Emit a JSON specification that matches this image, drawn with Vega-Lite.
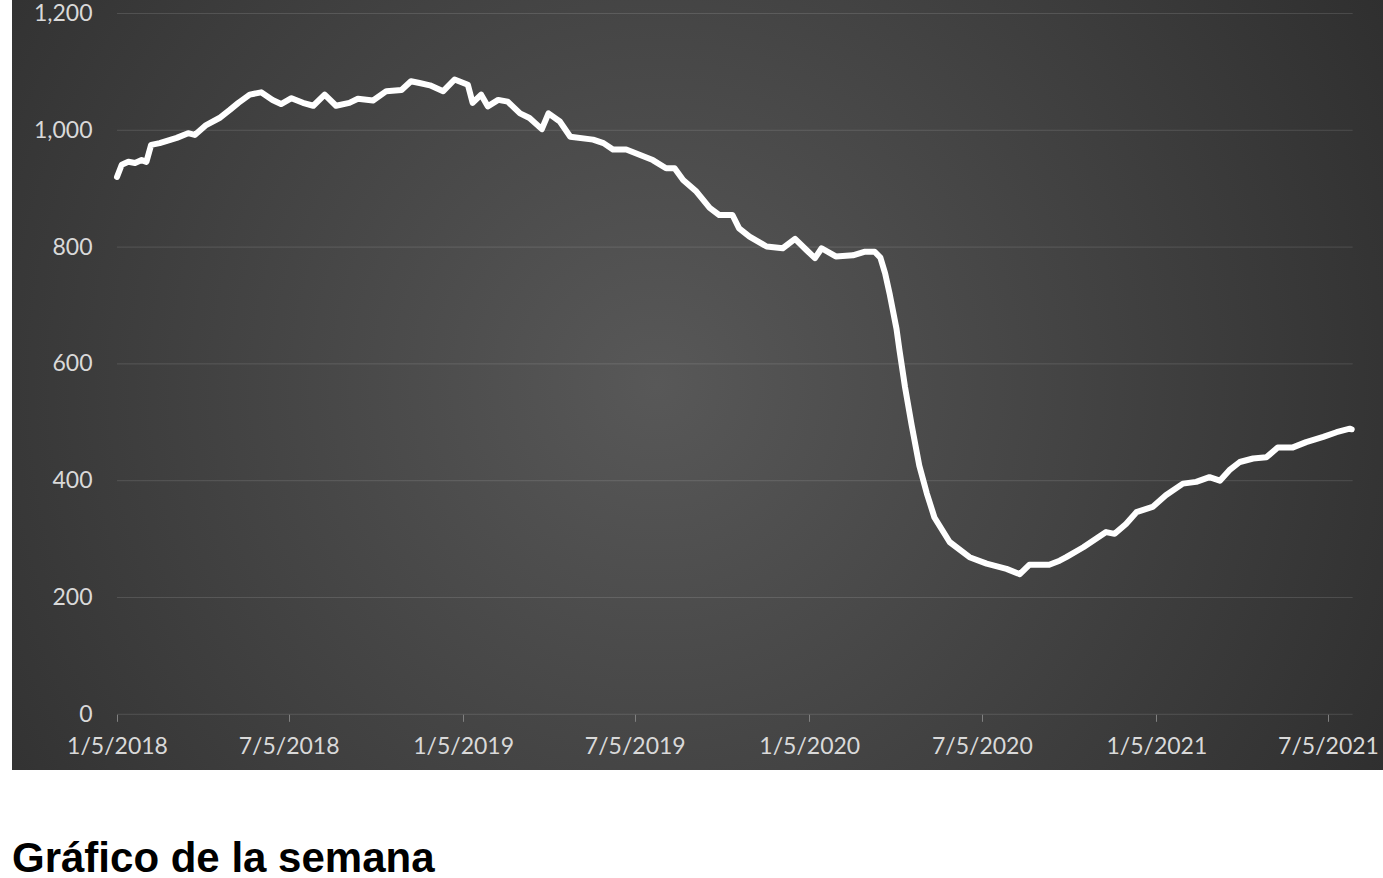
{
  "$schema": "https://vega.github.io/schema/vega-lite/v6.json",
  "width": 1371,
  "height": 770,
  "autosize": {"type": "none"},
  "padding": {"left": 12, "top": 0, "right": 0, "bottom": 108},
  "background": "white",
  "title": {
    "text": "Gráfico de la semana",
    "orient": "bottom",
    "anchor": "start",
    "frame": "group",
    "font": "Liberation Sans",
    "fontSize": 42,
    "fontWeight": "bold",
    "color": "black",
    "baseline": "alphabetic",
    "offset": 102
  },
  "config": {
    "view": {
      "stroke": null,
      "fill": {
        "gradient": "radial",
        "x1": 0.47, "y1": 0.5, "r1": 0,
        "x2": 0.47, "y2": 0.5, "r2": 0.72,
        "stops": [
          {"offset": 0, "color": "#585858"},
          {"offset": 1, "color": "#272727"}
        ]
      }
    }
  },
  "datasets": {
    "grid": [{"v": 0}, {"v": 200}, {"v": 400}, {"v": 600}, {"v": 800}, {"v": 1000}, {"v": 1200}],
    "series": [
      {"date": "2018-01-05", "value": 920},
      {"date": "2018-01-10", "value": 941},
      {"date": "2018-01-17", "value": 946},
      {"date": "2018-01-24", "value": 944},
      {"date": "2018-01-31", "value": 949},
      {"date": "2018-02-05", "value": 946},
      {"date": "2018-02-10", "value": 975},
      {"date": "2018-02-19", "value": 978},
      {"date": "2018-03-09", "value": 987},
      {"date": "2018-03-21", "value": 995},
      {"date": "2018-03-28", "value": 992},
      {"date": "2018-04-09", "value": 1009},
      {"date": "2018-04-23", "value": 1021},
      {"date": "2018-05-04", "value": 1035},
      {"date": "2018-05-13", "value": 1047},
      {"date": "2018-05-25", "value": 1061},
      {"date": "2018-06-06", "value": 1065},
      {"date": "2018-06-18", "value": 1052},
      {"date": "2018-06-27", "value": 1045},
      {"date": "2018-07-08", "value": 1055},
      {"date": "2018-07-20", "value": 1047},
      {"date": "2018-07-31", "value": 1042},
      {"date": "2018-08-12", "value": 1061},
      {"date": "2018-08-24", "value": 1042},
      {"date": "2018-09-07", "value": 1047},
      {"date": "2018-09-16", "value": 1054},
      {"date": "2018-10-02", "value": 1051},
      {"date": "2018-10-16", "value": 1067},
      {"date": "2018-11-01", "value": 1069},
      {"date": "2018-11-11", "value": 1084},
      {"date": "2018-11-20", "value": 1081},
      {"date": "2018-12-01", "value": 1077},
      {"date": "2018-12-15", "value": 1067},
      {"date": "2018-12-27", "value": 1087},
      {"date": "2019-01-10", "value": 1078},
      {"date": "2019-01-15", "value": 1047},
      {"date": "2019-01-24", "value": 1061},
      {"date": "2019-01-31", "value": 1041},
      {"date": "2019-02-11", "value": 1052},
      {"date": "2019-02-21", "value": 1049},
      {"date": "2019-03-06", "value": 1029},
      {"date": "2019-03-16", "value": 1021},
      {"date": "2019-03-29", "value": 1002},
      {"date": "2019-04-05", "value": 1029},
      {"date": "2019-04-17", "value": 1015},
      {"date": "2019-04-28", "value": 989},
      {"date": "2019-05-22", "value": 984},
      {"date": "2019-06-02", "value": 978},
      {"date": "2019-06-12", "value": 967},
      {"date": "2019-06-26", "value": 967},
      {"date": "2019-07-10", "value": 958},
      {"date": "2019-07-24", "value": 949},
      {"date": "2019-08-07", "value": 935},
      {"date": "2019-08-16", "value": 935},
      {"date": "2019-08-25", "value": 915},
      {"date": "2019-09-08", "value": 895},
      {"date": "2019-09-22", "value": 867},
      {"date": "2019-10-02", "value": 855},
      {"date": "2019-10-16", "value": 855},
      {"date": "2019-10-23", "value": 832},
      {"date": "2019-11-03", "value": 818},
      {"date": "2019-11-21", "value": 801},
      {"date": "2019-12-08", "value": 798},
      {"date": "2019-12-21", "value": 814},
      {"date": "2020-01-02", "value": 795},
      {"date": "2020-01-11", "value": 781},
      {"date": "2020-01-18", "value": 798},
      {"date": "2020-02-02", "value": 784},
      {"date": "2020-02-20", "value": 786},
      {"date": "2020-03-03", "value": 792},
      {"date": "2020-03-14", "value": 792},
      {"date": "2020-03-20", "value": 782},
      {"date": "2020-03-25", "value": 755},
      {"date": "2020-03-30", "value": 718},
      {"date": "2020-04-06", "value": 660},
      {"date": "2020-04-09", "value": 625},
      {"date": "2020-04-15", "value": 560},
      {"date": "2020-04-22", "value": 495},
      {"date": "2020-04-30", "value": 426},
      {"date": "2020-05-08", "value": 378},
      {"date": "2020-05-16", "value": 337},
      {"date": "2020-06-01", "value": 295},
      {"date": "2020-06-22", "value": 269},
      {"date": "2020-07-10", "value": 258},
      {"date": "2020-07-31", "value": 249},
      {"date": "2020-08-14", "value": 240},
      {"date": "2020-08-24", "value": 256},
      {"date": "2020-09-14", "value": 256},
      {"date": "2020-09-25", "value": 263},
      {"date": "2020-10-02", "value": 269},
      {"date": "2020-10-20", "value": 286},
      {"date": "2020-11-13", "value": 312},
      {"date": "2020-11-22", "value": 309},
      {"date": "2020-12-04", "value": 326},
      {"date": "2020-12-15", "value": 346},
      {"date": "2021-01-01", "value": 355},
      {"date": "2021-01-15", "value": 375},
      {"date": "2021-02-02", "value": 395},
      {"date": "2021-02-16", "value": 398},
      {"date": "2021-03-02", "value": 406},
      {"date": "2021-03-13", "value": 400},
      {"date": "2021-03-23", "value": 418},
      {"date": "2021-04-03", "value": 432},
      {"date": "2021-04-17", "value": 438},
      {"date": "2021-05-01", "value": 440},
      {"date": "2021-05-13", "value": 457},
      {"date": "2021-05-29", "value": 457},
      {"date": "2021-06-12", "value": 466},
      {"date": "2021-06-30", "value": 475},
      {"date": "2021-07-14", "value": 483},
      {"date": "2021-07-28", "value": 489},
      {"date": "2021-07-30", "value": 488}
    ]
  },
  "layer": [
    {
      "data": {"name": "grid"},
      "mark": {"type": "rule", "stroke": "#ffffff", "strokeOpacity": 0.13, "strokeWidth": 1},
      "encoding": {
        "x": {"datum": {"year": 2018, "month": 1, "date": 5}, "type": "temporal"},
        "x2": {"datum": {"year": 2021, "month": 7, "date": 31}},
        "y": {"field": "v", "type": "quantitative"}
      }
    },
    {
      "data": {"name": "series"},
      "mark": {"type": "line", "stroke": "#ffffff", "strokeWidth": 6, "strokeJoin": "round", "strokeCap": "round"},
      "encoding": {
        "x": {
          "field": "date",
          "type": "temporal",
          "scale": {
            "domain": [
              {"year": 2017, "month": 9, "date": 16, "hours": 7},
              {"year": 2021, "month": 9, "date": 1}
            ]
          },
          "axis": {
            "title": null,
            "values": [
              {"year": 2018, "month": 1, "date": 5},
              {"year": 2018, "month": 7, "date": 5},
              {"year": 2019, "month": 1, "date": 5},
              {"year": 2019, "month": 7, "date": 5},
              {"year": 2020, "month": 1, "date": 5},
              {"year": 2020, "month": 7, "date": 5},
              {"year": 2021, "month": 1, "date": 5},
              {"year": 2021, "month": 7, "date": 5}
            ],
            "format": "%-m/%-d/%Y",
            "grid": false,
            "domain": false,
            "ticks": true,
            "tickColor": "#808080",
            "tickSize": 7,
            "tickWidth": 1,
            "offset": -55.7,
            "labelFont": "Lato",
            "labelFontSize": 23,
            "labelColor": "#d9d9d9",
            "labelPadding": 14,
            "labelFlush": false,
            "labelOverlap": false
          }
        },
        "y": {
          "field": "value",
          "type": "quantitative",
          "scale": {"domain": [-95.4, 1223.1], "nice": false, "zero": false},
          "axis": {
            "title": null,
            "values": [0, 200, 400, 600, 800, 1000, 1200],
            "format": ",d",
            "grid": false,
            "domain": false,
            "ticks": false,
            "offset": -80,
            "labelPadding": 0,
            "labelFont": "Lato",
            "labelFontSize": 23,
            "labelColor": "#d9d9d9"
          }
        }
      }
    }
  ]
}
